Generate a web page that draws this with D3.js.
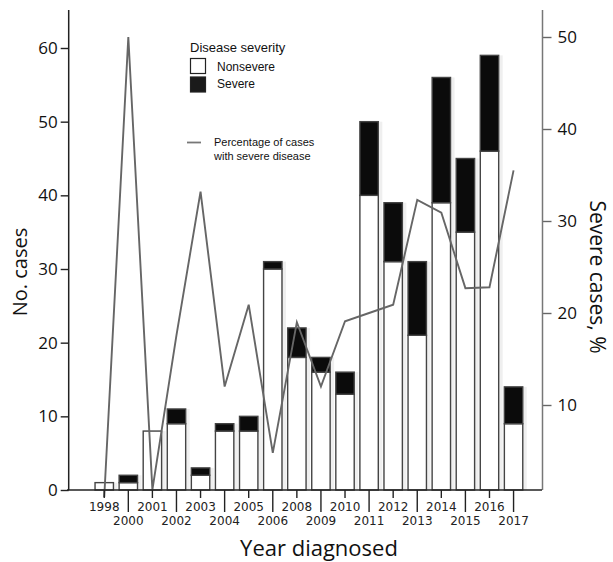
<!DOCTYPE html>
<html lang="en">
<head>
    <meta charset="UTF-8">
    <title>Cases by year diagnosed</title>
    <script src="https://d3js.org/d3.v7.min.js"></script>
    <style>
        body { margin: 0; background: #fff; }
        svg { display: block; }
        .tick-y text { font-family: "Open Sans", sans-serif; font-size: 17px; fill: #111; }
        .tick-x text { font-family: "DejaVu Sans", sans-serif; font-size: 12px; fill: #222; }
        .title { font-family: "Open Sans", sans-serif; font-size: 22px; fill: #111; }
        .legend { font-family: "Liberation Sans", Arial, sans-serif; fill: #111; }
    </style>
</head>
<body>
<svg width="613" height="562"></svg>
<script>
    // data
    const years = ["1998", "2000", "2001", "2002", "2003", "2004", "2005", "2006", "2008",
                   "2009", "2010", "2011", "2012", "2013", "2014", "2015", "2016", "2017"];
    const nonsevere = [1, 1, 8, 9, 2, 8, 8, 30, 18, 16, 13, 40, 31, 21, 39, 35, 46, 9];
    const severe    = [0, 1, 0, 2, 1, 1, 2, 1, 4, 2, 3, 10, 8, 10, 17, 10, 13, 5];
    const pctSevere = [0, 50, 0.8, 17.6, 33.2, 12, 20.9, 4.8, 19, 12, 19.1, 20, 20.9, 32.3, 30.9, 22.7, 22.8, 35.5];
    const leftTicks = [0, 10, 20, 30, 40, 50, 60];
    const rightTicks = [10, 20, 30, 40, 50];

    const svg = d3.select("svg");

    const x = d3.scaleBand()
        .domain(years)
        .range([92.2, 525.6])
        .paddingInner(0.236)
        .paddingOuter(0.118);

    const y = d3.scaleLinear().domain([0, 60]).range([490, 48]);
    const yR = d3.scaleLinear().domain([0, 50]).range([497, 37]);

    const rows = years.map((yr, i) => ({ yr, ns: nonsevere[i], sv: severe[i], pct: pctSevere[i] }));

    // faint shadow behind the bars
    svg.append("g").selectAll("rect")
        .data(rows)
        .enter().append("rect")
        .attr("x", d => x(d.yr) + 4)
        .attr("y", d => y(d.ns + d.sv))
        .attr("width", x.bandwidth())
        .attr("height", d => y(0) - y(d.ns + d.sv))
        .attr("fill", "#efefef");

    // nonsevere part
    svg.append("g").selectAll("rect")
        .data(rows)
        .enter().append("rect")
        .attr("x", d => x(d.yr))
        .attr("y", d => y(d.ns))
        .attr("width", x.bandwidth())
        .attr("height", d => y(0) - y(d.ns))
        .attr("fill", "#fff")
        .attr("stroke", "#444")
        .attr("stroke-width", 1.4);

    // severe part on top
    svg.append("g").selectAll("rect")
        .data(rows.filter(d => d.sv > 0))
        .enter().append("rect")
        .attr("x", d => x(d.yr))
        .attr("y", d => y(d.ns + d.sv))
        .attr("width", x.bandwidth())
        .attr("height", d => y(d.ns) - y(d.ns + d.sv))
        .attr("fill", "#0b0b0b")
        .attr("stroke", "#444")
        .attr("stroke-width", 1.4);

    // percentage line
    const line = d3.line()
        .x(d => x(d.yr) + x.bandwidth() / 2)
        .y(d => yR(d.pct));
    svg.append("path")
        .datum(rows)
        .attr("d", line)
        .attr("fill", "none")
        .attr("stroke", "#666")
        .attr("stroke-width", 1.9)
        .attr("stroke-linejoin", "miter");

    // left axis
    const gL = svg.append("g")
        .attr("class", "tick-y")
        .attr("transform", "translate(68.7,0)")
        .call(d3.axisLeft(y).tickValues(leftTicks).tickSize(8).tickPadding(3));
    gL.select(".domain").remove();
    gL.selectAll("line").attr("stroke", "#222").attr("stroke-width", 1.4);
    svg.append("line")
        .attr("x1", 68.7).attr("x2", 68.7).attr("y1", 10).attr("y2", 490)
        .attr("stroke", "#222").attr("stroke-width", 1.5);

    // right axis
    const gR = svg.append("g")
        .attr("class", "tick-y")
        .attr("transform", "translate(542.5,0)")
        .call(d3.axisRight(yR).tickValues(rightTicks).tickSize(9).tickPadding(6));
    gR.select(".domain").remove();
    gR.selectAll("line").attr("stroke", "#666").attr("stroke-width", 1.4);
    svg.append("line")
        .attr("x1", 542.5).attr("x2", 542.5).attr("y1", 10).attr("y2", 490)
        .attr("stroke", "#777").attr("stroke-width", 1.5);

    // bottom axis, staggered labels
    const gX = svg.append("g")
        .attr("class", "tick-x")
        .attr("transform", "translate(0,490)")
        .call(d3.axisBottom(x).tickSizeOuter(0));
    gX.select(".domain").remove();
    gX.selectAll(".tick line")
        .attr("stroke", "#222").attr("stroke-width", 1.4)
        .attr("y2", (d, i) => i % 2 ? 22 : 8);
    gX.selectAll(".tick text")
        .attr("dy", null)
        .attr("y", (d, i) => i % 2 ? 35 : 20.5);
    svg.append("line")
        .attr("x1", 67).attr("x2", 542).attr("y1", 490).attr("y2", 490)
        .attr("stroke", "#222").attr("stroke-width", 1.5);

    // axis titles
    svg.append("text").attr("class", "title")
        .attr("x", 319).attr("y", 556).attr("text-anchor", "middle")
        .text("Year diagnosed");
    svg.append("text").attr("class", "title")
        .attr("transform", "translate(27,272) rotate(-90)")
        .attr("text-anchor", "middle")
        .attr("font-size", "20px")
        .style("font-size", "20px")
        .text("No. cases");
    svg.append("text").attr("class", "title")
        .attr("transform", "translate(590,277) rotate(90)")
        .attr("text-anchor", "middle")
        .style("font-size", "21px")
        .text("Severe cases, %");

    // legend
    const lg = svg.append("g").attr("class", "legend");
    lg.append("text").attr("x", 190).attr("y", 52).attr("font-size", 13).text("Disease severity");
    lg.append("rect").attr("x", 190.5).attr("y", 58.5).attr("width", 15).attr("height", 15)
        .attr("fill", "#fff").attr("stroke", "#222").attr("stroke-width", 1.2);
    lg.append("rect").attr("x", 190.5).attr("y", 77).attr("width", 15).attr("height", 15)
        .attr("fill", "#1a1a1a").attr("stroke", "#222").attr("stroke-width", 1.2);
    lg.append("text").attr("x", 217).attr("y", 70.5).attr("font-size", 12).text("Nonsevere");
    lg.append("text").attr("x", 217).attr("y", 87.5).attr("font-size", 12).text("Severe");
    lg.append("line").attr("x1", 187).attr("x2", 201).attr("y1", 142.5).attr("y2", 142.5)
        .attr("stroke", "#777").attr("stroke-width", 1.8);
    lg.append("text").attr("x", 214).attr("y", 146).attr("font-size", 11).text("Percentage of cases");
    lg.append("text").attr("x", 214).attr("y", 159.5).attr("font-size", 11).text("with severe disease");
</script>
</body>
</html>
